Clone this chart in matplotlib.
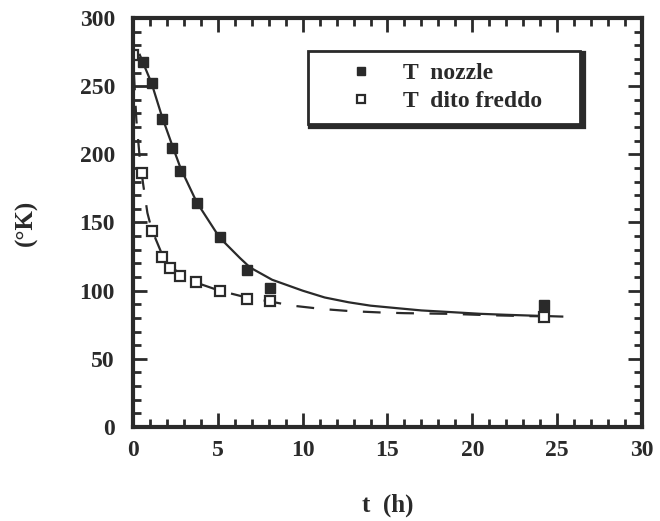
import matplotlib
matplotlib.use("Agg")
from matplotlib import pyplot as plt
from matplotlib.ticker import MultipleLocator

# measured points
t_nozzle = [0.6, 1.1, 1.7, 2.3, 2.8, 3.75, 5.1, 6.7, 8.1, 24.2]
T_nozzle = [268, 252, 226, 205, 188, 164, 139, 115, 102, 89.5]

t_dito = [0.0, 0.55, 1.1, 1.7, 2.2, 2.8, 3.7, 5.1, 6.7, 8.1, 24.2]
T_dito = [273, 186, 144, 125, 116.5, 111, 106, 100, 94, 92.5, 80.5]

# fitted curves
t_fit_nozzle = [0.4, 0.6, 1.1, 1.7, 2.3, 2.8, 3.75, 5.1, 6.3, 6.9, 8.2, 10, 11.3,
                12.7, 14, 15.7, 17, 18.7, 20.5, 22, 24, 25.3]
T_fit_nozzle = [273, 267, 252, 228, 207, 190, 165, 139, 124, 117, 108, 100, 95,
                91.5, 89, 87, 85.5, 84.3, 83, 82.3, 81.5, 81]

t_fit_dito = [0.05, 0.2, 0.4, 0.6, 0.85, 1.1, 1.7, 2.5, 3.7, 5.1, 6.7, 8.1, 9.4, 11.2,
              12.8, 14.6, 16, 18.7, 21, 23, 25.3]
T_fit_dito = [260, 225, 197, 178, 157, 145, 127, 115, 106, 100, 95, 92, 89, 86.5,
              85, 84, 83.5, 83, 82, 81.4, 81]

ink = "#2a2a2a"
plt.rcParams['font.family'] = ['Liberation Serif', 'DejaVu Serif']
plt.rcParams['font.weight'] = 'bold'

fig = plt.figure(figsize=(6.6, 5.21), dpi=100)
ax = fig.add_axes([0.2015, 0.1804, 0.7712, 0.7851])

ax.plot(t_fit_nozzle, T_fit_nozzle, color=ink, lw=1.6)
ax.plot(t_fit_dito, T_fit_dito, color=ink, lw=1.6, dashes=(8, 7))
ax.plot(t_nozzle, T_nozzle, 's', color=ink, ms=7.5, label='T  nozzle')
ax.plot(t_dito, T_dito, 's', mfc='white', mec=ink, mew=1.6, ms=7.5, label='T  dito freddo')

ax.set_xlim(0, 30)
ax.set_ylim(0, 300)
ax.xaxis.set_major_locator(MultipleLocator(5))
ax.xaxis.set_minor_locator(MultipleLocator(1))
ax.yaxis.set_major_locator(MultipleLocator(50))
ax.yaxis.set_minor_locator(MultipleLocator(10))
ax.tick_params(which='both', direction='in', top=True, right=True, colors=ink,
               labelsize=17)
ax.tick_params(which='major', length=10, width=2)
ax.tick_params(which='minor', length=6, width=2)
ax.tick_params(axis='x', pad=9)
ax.tick_params(axis='y', pad=13)
for s in ax.spines.values():
    s.set_linewidth(3)
    s.set_color(ink)

ax.set_xlabel('t  (h)', fontsize=18, fontweight='bold', color=ink, labelpad=24)
ax.set_ylabel('(°K)', fontsize=18, fontweight='bold', color=ink, labelpad=30)

leg = ax.legend(loc='upper left', bbox_to_anchor=(0.344, 0.726, 0.534, 0.193),
                mode='expand', borderaxespad=0, fancybox=False,
                shadow={'color': ink, 'alpha': 1, 'lw': 4.5},
                borderpad=0.5, labelspacing=0.25, handlelength=3.5,
                handletextpad=0.0, markerscale=0.7,
                prop={'size': 17, 'weight': 'bold'}, framealpha=1)
leg.get_frame().set_edgecolor(ink)
leg.get_frame().set_linewidth(2)
for txt in leg.get_texts():
    txt.set_color(ink)

fig.savefig('out.png', dpi=100)
